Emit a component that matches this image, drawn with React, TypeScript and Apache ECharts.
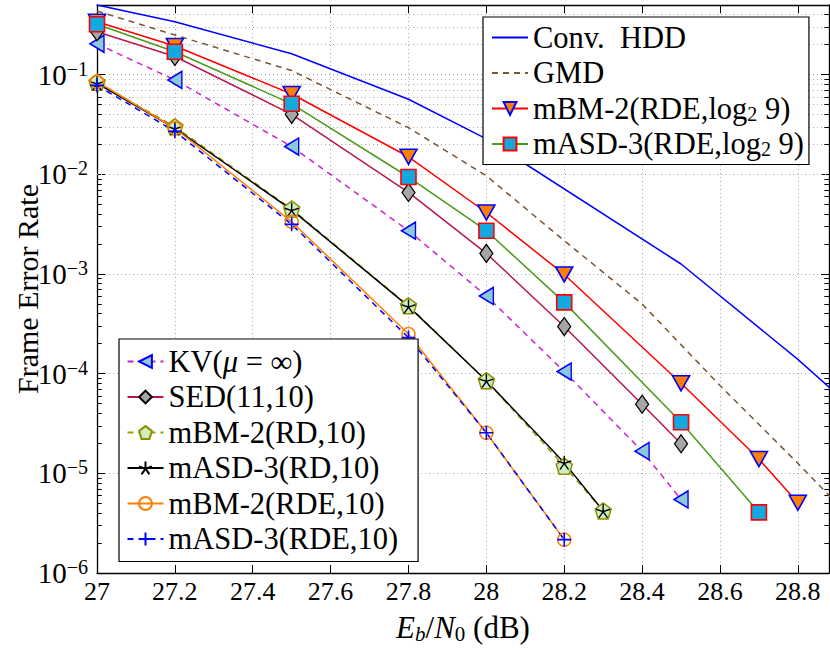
import React, { useEffect, useRef } from "react";
import * as echarts from "echarts";

const SERIF = "Liberation Serif";

// x tick labels / axis range
const xTicks = [27, 27.2, 27.4, 27.6, 27.8, 28, 28.2, 28.4, 28.6, 28.8];

// Conv. HDD
const hddX = [27, 27.2, 27.5, 27.8, 28, 28.5, 28.8, 29];
const hddY = [0.5, 0.34, 0.162, 0.0567, 0.0227, 1.26e-3, 1.39e-4, 2.8e-5];
// GMD
const gmdX = [27, 27.2, 27.5, 27.8, 28, 28.2, 28.4, 28.6, 28.8, 28.9];
const gmdY = [0.435, 0.25, 0.11, 0.0294, 9.66e-3, 2.16e-3, 5.0e-4, 7.6e-5, 1.26e-5, 5.0e-6];
// KV(mu = inf)
const kvX = [27, 27.2, 27.5, 27.8, 28, 28.2, 28.4, 28.5];
const kvY = [0.204, 0.0886, 0.019, 2.72e-3, 6.03e-4, 1.05e-4, 1.67e-5, 5.47e-6];
// SED(11,10)
const sedX = [27, 27.2, 27.5, 27.8, 28, 28.2, 28.4, 28.5];
const sedY = [0.27, 0.152, 0.04, 6.58e-3, 1.61e-3, 2.97e-4, 4.93e-5, 1.98e-5];
// RD,10
const rdX = [27, 27.2, 27.5, 27.8, 28, 28.2, 28.3];
const mbmRdY = [0.084, 0.03, 4.5e-3, 4.8e-4, 8.5e-5, 1.18e-5, 4.2e-6];
const masdRdY = [0.082, 0.029, 4.4e-3, 4.73e-4, 8.5e-5, 1.28e-5, 4.2e-6];
// RDE,10
const rdeX = [27, 27.2, 27.5, 27.8, 28, 28.2];
const mbmRdeY = [0.085, 0.029, 3.34e-3, 2.5e-4, 2.55e-5, 2.16e-6];
const masdRdeY = [0.078, 0.027, 3.15e-3, 2.3e-4, 2.55e-5, 2.16e-6];
// RDE, log2 9
const mbmLogX = [27, 27.2, 27.5, 27.8, 28, 28.2, 28.5, 28.7, 28.8];
const mbmLogY = [0.34, 0.194, 0.064, 0.015, 4.14e-3, 9.9e-4, 8.0e-5, 1.39e-5, 5.07e-6];
const masdLogX = [27, 27.2, 27.5, 27.8, 28, 28.2, 28.5, 28.7];
const masdLogY = [0.32, 0.17, 0.051, 9.4e-3, 2.72e-3, 5.19e-4, 3.26e-5, 4.06e-6];

const NAMES = {
  hdd: "Conv. HDD",
  gmd: "GMD",
  mbmLog: "mBM-2(RDE,log2 9)",
  masdLog: "mASD-3(RDE,log2 9)",
  kv: "KV(μ = ∞)",
  sed: "SED(11,10)",
  mbmRd: "mBM-2(RD,10)",
  masdRd: "mASD-3(RD,10)",
  mbmRde: "mBM-2(RDE,10)",
  masdRde: "mASD-3(RDE,10)",
};

const RICH_LABEL: Record<string, string> = {
  [NAMES.hdd]: "Conv.\u00a0 HDD",
  [NAMES.mbmLog]: "mBM-2(RDE,log{sub|2} 9)",
  [NAMES.masdLog]: "mASD-3(RDE,log{sub|2} 9)",
  [NAMES.kv]: "KV({it|μ} = ∞)",
};

const PENTAGON = "path://M0,-10L9.51,-3.09L5.88,8.09L-5.88,8.09L-9.51,-3.09Z";
const STAR = "path://M0,0L0,-10M0,0L9.51,-3.09M0,0L5.88,8.09M0,0L-5.88,8.09M0,0L-9.51,-3.09";
const PLUS = "path://M-10,0L10,0M0,-10L0,10";

const zip = (xs: number[], ys: number[]) => xs.map((x, i) => [x, ys[i]]);

const X_MIN = 27;
const X_MAX = 28.88;
const Y_MIN = 1e-6;
const Y_MAX = 0.5;

export default function App() {
  const ref = useRef<HTMLDivElement>(null);

  useEffect(() => {
    if (!ref.current) return;
    const chart = echarts.init(ref.current, null, { renderer: "svg" });

    const gridStyle = { color: "#a9a9a9", width: 1, type: [1, 3] as number[] };

    // minor grid lines and minor ticks (log decades 2..9)
    const minorVals: number[] = [];
    for (let e = -6; e <= -1; e++) {
      for (let k = 2; k <= 9; k++) {
        const v = k * Math.pow(10, e);
        if (v < Y_MAX) minorVals.push(v);
      }
    }
    const tickStyle = { color: "#000", width: 1, type: "solid" };
    const markData: any[] = [];
    minorVals.forEach((v) => {
      markData.push({ yAxis: v, lineStyle: gridStyle });
      markData.push([
        { coord: [X_MIN, v], lineStyle: tickStyle },
        { coord: [X_MIN + 0.012, v] },
      ]);
      markData.push([
        { coord: [X_MAX - 0.012, v], lineStyle: tickStyle },
        { coord: [X_MAX, v] },
      ]);
    });

    const lineSeries = (
      name: string,
      xs: number[],
      ys: number[],
      line: any,
      sym: any
    ) => ({
      name,
      type: "line",
      data: zip(xs, ys),
      lineStyle: { width: 1.5, ...line },
      emphasis: { disabled: true },
      ...sym,
    });

    const series: any[] = [
      {
        name: "__grid",
        type: "line",
        data: [[27.5, 0.01]],
        symbol: "none",
        lineStyle: { opacity: 0 },
        silent: true,
        z: 1,
        markLine: {
          silent: true,
          z: 1,
          symbol: ["none", "none"],
          label: { show: false },
          emphasis: { disabled: true },
          animation: false,
          lineStyle: gridStyle,
          data: markData,
        },
      },
      lineSeries(NAMES.hdd, hddX, hddY, { color: "#0000ff" }, {
        symbol: "none",
        itemStyle: { color: "#0000ff" },
      }),
      lineSeries(NAMES.gmd, gmdX, gmdY, { color: "#7a5634", type: [6, 5] }, {
        symbol: "none",
        itemStyle: { color: "#7a5634" },
      }),
      lineSeries(NAMES.kv, kvX, kvY, { color: "#cc22cc", type: [6, 5] }, {
        symbol: "triangle",
        symbolRotate: 90,
        symbolSize: [17, 14],
        itemStyle: { color: "#8ec9d9", borderColor: "#0000ff", borderWidth: 1.5 },
      }),
      lineSeries(NAMES.sed, sedX, sedY, { color: "#b8164f" }, {
        symbol: "diamond",
        symbolSize: [13, 18],
        itemStyle: { color: "#a6a6a6", borderColor: "#000", borderWidth: 1.3 },
      }),
      lineSeries(NAMES.mbmRd, rdX, mbmRdY, { color: "#9a9a00", type: [6, 5] }, {
        symbol: PENTAGON,
        symbolSize: 16,
        itemStyle: { color: "#ccefc2", borderColor: "#8f8f00", borderWidth: 1.5 },
      }),
      lineSeries(NAMES.masdRd, rdX, masdRdY, { color: "#000" }, {
        symbol: STAR,
        symbolSize: 14,
        itemStyle: { color: "#000", borderColor: "#000", borderWidth: 1.4 },
      }),
      lineSeries(NAMES.mbmRde, rdeX, mbmRdeY, { color: "#ff8000" }, {
        symbol: "circle",
        symbolSize: 13,
        itemStyle: { color: "rgba(255,255,255,0)", borderColor: "#ff8000", borderWidth: 1.5 },
      }),
      lineSeries(NAMES.masdRde, rdeX, masdRdeY, { color: "#0000ff", type: [6, 5] }, {
        symbol: PLUS,
        symbolSize: 14,
        itemStyle: { color: "#0000ff", borderColor: "#0000ff", borderWidth: 1.6 },
      }),
      lineSeries(NAMES.mbmLog, mbmLogX, mbmLogY, { color: "#ff0000" }, {
        symbol: "triangle",
        symbolRotate: 180,
        symbolSize: [17, 15],
        itemStyle: { color: "#ff8000", borderColor: "#0000ff", borderWidth: 1.6 },
      }),
      lineSeries(NAMES.masdLog, masdLogX, masdLogY, { color: "#4b9a1c" }, {
        symbol: "rect",
        symbolSize: 15,
        itemStyle: { color: "#12a8e0", borderColor: "#ff0000", borderWidth: 1.6 },
      }),
    ];

    const LF = 30.5;
    const legendText = {
      fontFamily: SERIF,
      fontSize: LF,
      lineHeight: 30,
      color: "#000",
      rich: {
        sub: { fontFamily: SERIF, fontSize: 20, lineHeight: 20, verticalAlign: "bottom", color: "#000" },
        it: { fontFamily: SERIF, fontSize: LF, lineHeight: 30, fontStyle: "italic", color: "#000" },
      },
    };
    const legendCommon = {
      orient: "vertical",
      selectedMode: false,
      backgroundColor: "#fff",
      borderColor: "#000",
      borderWidth: 1.2,
      borderRadius: 0,
      itemGap: 4.5,
      itemWidth: 36,
      itemHeight: 16,
      textStyle: legendText,
      formatter: (n: string) => RICH_LABEL[n] || n,
    };

    const isPow10 = (v: number) => {
      const l = Math.log10(v);
      return Math.abs(l - Math.round(l)) < 1e-6;
    };

    const option: any = {
      animation: false,
      backgroundColor: "#fff",
      textStyle: { fontFamily: SERIF },
      grid: {
        left: 97,
        right: 1,
        top: 5,
        bottom: 75,
        containLabel: false,
        outerBoundsMode: "none",
      },
      legend: [
        {
          ...legendCommon,
          left: 483,
          top: 17,
          padding: [5, 5, 5, 8],
          data: [
            { name: NAMES.hdd, itemStyle: { opacity: 0 } },
            { name: NAMES.gmd, itemStyle: { opacity: 0 } },
            NAMES.mbmLog,
            NAMES.masdLog,
          ],
        },
        {
          ...legendCommon,
          left: 119,
          top: 339,
          padding: [7, 20, 7, 7.5],
          data: [NAMES.kv, NAMES.sed, NAMES.mbmRd, NAMES.masdRd, NAMES.mbmRde, NAMES.masdRde],
        },
      ],
      xAxis: [
        {
          type: "value",
          min: X_MIN,
          max: X_MAX,
          interval: 0.2,
          name: "{i|E}{si|b}{n|/}{i|N}{s|0}{n| (dB)}",
          nameLocation: "middle",
          nameGap: 37,
          nameMoveOverlap: false,
          nameTextStyle: {
            fontFamily: SERIF,
            fontSize: 31,
            lineHeight: 34,
            color: "#000",
            rich: {
              i: { fontFamily: SERIF, fontSize: 31, lineHeight: 34, fontStyle: "italic", color: "#000" },
              n: { fontFamily: SERIF, fontSize: 31, lineHeight: 34, color: "#000" },
              s: { fontFamily: SERIF, fontSize: 21, lineHeight: 21, verticalAlign: "bottom", color: "#000" },
              si: { fontFamily: SERIF, fontSize: 21, lineHeight: 21, fontStyle: "italic", verticalAlign: "bottom", color: "#000" },
            },
          },
          axisLine: { show: true, lineStyle: { color: "#000", width: 1.3 } },
          axisTick: { show: true, inside: true, length: 8, lineStyle: { color: "#000", width: 1 } },
          axisLabel: {
            show: true,
            margin: 5,
            fontFamily: SERIF,
            fontSize: 26,
            color: "#000",
            showMaxLabel: false,
            formatter: (v: number) =>
              xTicks.some((t) => Math.abs(t - v) < 1e-6) ? String(Math.round(v * 10) / 10) : "",
          },
          splitLine: { show: true, lineStyle: gridStyle },
        },
        {
          type: "value",
          position: "top",
          min: X_MIN,
          max: X_MAX,
          interval: 0.2,
          axisLine: { show: true, lineStyle: { color: "#000", width: 1.3 } },
          axisTick: { show: true, inside: true, length: 8, lineStyle: { color: "#000", width: 1 } },
          axisLabel: { show: false },
          splitLine: { show: false },
        },
      ],
      yAxis: [
        {
          type: "log",
          logBase: 10,
          min: Y_MIN,
          max: Y_MAX,
          name: "Frame Error Rate",
          nameLocation: "middle",
          nameGap: 55,
          nameMoveOverlap: false,
          nameTextStyle: { fontFamily: SERIF, fontSize: 30, color: "#000" },
          axisLine: { show: true, lineStyle: { color: "#000", width: 1.3 } },
          axisTick: { show: true, inside: true, length: 8, lineStyle: { color: "#000", width: 1 } },
          axisLabel: {
            show: true,
            margin: 9,
            showMaxLabel: false,
            fontFamily: SERIF,
            formatter: (v: number) => {
              if (!isPow10(v)) return "";
              const e = Math.round(Math.log10(v));
              return "{b|10}{s|−" + -e + "}";
            },
            rich: {
              b: { fontFamily: SERIF, fontSize: 29, lineHeight: 32, color: "#000" },
              s: { fontFamily: SERIF, fontSize: 20, lineHeight: 20, verticalAlign: "top", color: "#000" },
            },
          },
          splitLine: { show: true, lineStyle: gridStyle },
        },
        {
          type: "log",
          logBase: 10,
          position: "right",
          min: Y_MIN,
          max: Y_MAX,
          axisLine: { show: true, lineStyle: { color: "#000", width: 1.3 } },
          axisTick: { show: true, inside: true, length: 8, lineStyle: { color: "#000", width: 1 } },
          axisLabel: { show: false },
          splitLine: { show: false },
        },
      ],
      series,
    };

    chart.setOption(option);
    return () => chart.dispose();
  }, []);

  return (
    <div
      ref={ref}
      style={{ position: "fixed", left: 0, top: 0, width: 830, height: 648, background: "#fff" }}
    />
  );
}
